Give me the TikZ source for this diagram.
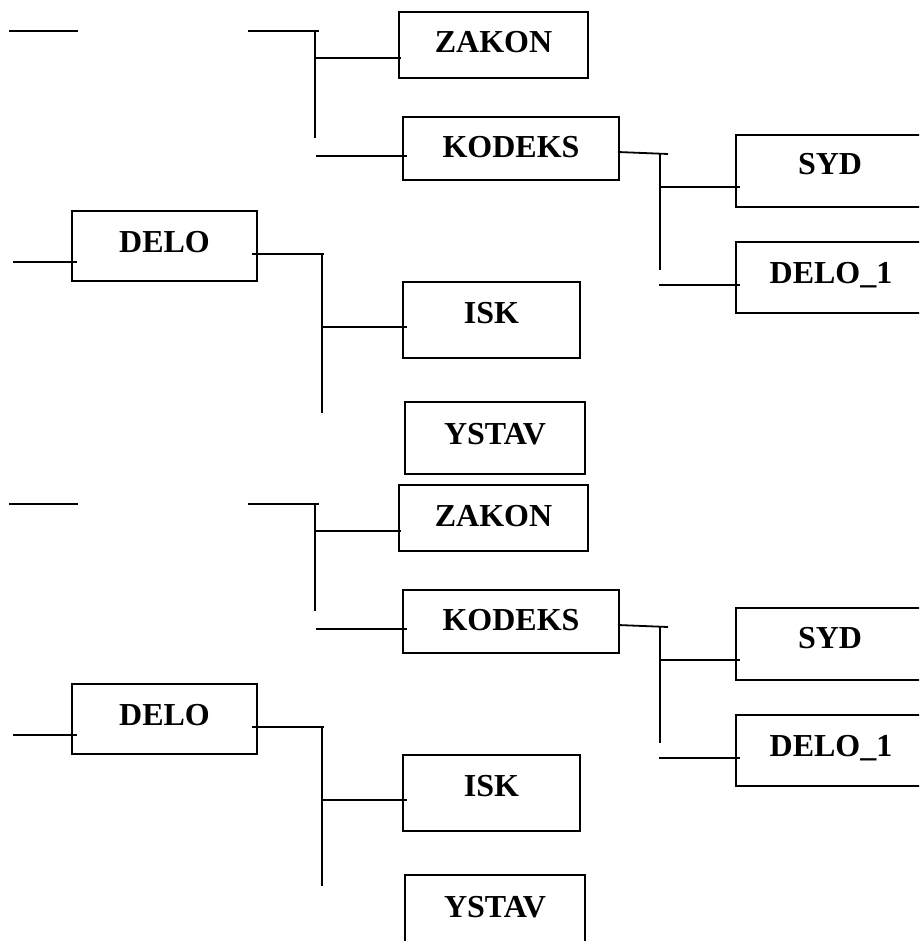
\documentclass[tikz,border=0pt]{standalone}
\usepackage{fontspec}
\setmainfont{Liberation Serif}
\usetikzlibrary{calc}
\tikzset{
  box/.style={draw, line width=1.8pt, inner sep=0pt,
    font=\fontsize{32}{38}\selectfont\bfseries, text height=21pt},
  wire/.style={line width=1.8pt},
}
% One complete tree: boxes first, then the connector lines
\newcommand\drawtree{%
  \node[box, minimum width=189pt, minimum height=66pt, text depth=5pt]  (zakon)  at (493.5,45)  {ZAKON};
  \node[box, minimum width=216pt, minimum height=63pt, text depth=3pt]  (kodeks) at (511,148.5)  {KODEKS};
  \node[box, minimum width=188pt, minimum height=72pt, text depth=13pt] (syd)    at (830,171)    {SYD};
  \node[box, minimum width=190pt, minimum height=71pt, text depth=10pt] (delo1)  at (831,277.5)  {DELO\_1};
  \node[box, minimum width=185pt, minimum height=70pt, text depth=9pt]  (delo)   at (164.5,246)  {DELO};
  \node[box, minimum width=177pt, minimum height=76pt, text depth=15pt] (isk)    at (491.5,320)  {ISK};
  \node[box, minimum width=180pt, minimum height=72pt, text depth=9pt]  (ystav)  at (495,438)    {YSTAV};
  % loose stubs at the top
  \coordinate (s0) at (9,31);   \coordinate (s1) at (78,31);
  \draw[wire] (s0) -- (s1);
  \coordinate (t0) at (248,31); \coordinate (t1) at (319,31);
  \coordinate (v1) at (315,138);
  \draw[wire] (t0) -- (t1);
  \draw[wire] (t1 -| v1) -- (v1);
  % branches to ZAKON and KODEKS
  \coordinate (jz) at (315,58);
  \draw[wire] (jz) -- ($(jz -| zakon.west)+(3,0)$);
  \coordinate (jk) at (316,156);
  \draw[wire] (jk) -- ($(jk -| kodeks.west)+(5,0)$);
  % KODEKS to SYD and DELO_1
  \coordinate (ko) at (668,154); \coordinate (v2) at (660,270);
  \draw[wire] ($(kodeks.east)+(-2,3.5)$) -- (ko);
  \draw[wire] (ko -| v2) -- (v2);
  \coordinate (js) at (660,187);
  \draw[wire] (js) -- ($(js -| syd.west)+(5,0)$);
  \coordinate (jd) at (659,285);
  \draw[wire] (jd) -- ($(jd -| delo1.west)+(5,0)$);
  % DELO and its branch to ISK
  \coordinate (di) at (13,262);
  \draw[wire] (di) -- ($(di -| delo.west)+(6,0)$);
  \coordinate (do) at (324,254); \coordinate (v3) at (322,413);
  \draw[wire] ($(delo.east)+(-6,8)$) -- (do);
  \draw[wire] (do -| v3) -- (v3);
  \coordinate (ji) at (322,327);
  \draw[wire] (ji) -- ($(ji -| isk.west)+(5,0)$);
}
\begin{document}
\begin{tikzpicture}[x=1pt,y=-1pt]
  \useasboundingbox (0,0) rectangle (919,941);
  \clip (0,0) rectangle (919,941);
  \begin{scope}[name prefix=up-]
    \drawtree
  \end{scope}
  \begin{scope}[yshift=-473pt, name prefix=dn-]
    \drawtree
  \end{scope}
\end{tikzpicture}
\end{document}
